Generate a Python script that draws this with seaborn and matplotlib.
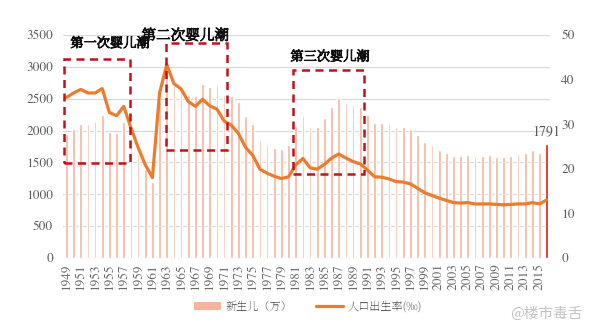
import numpy as np
import pandas as pd
import matplotlib
matplotlib.use("Agg")
import matplotlib.pyplot as plt
from matplotlib import font_manager
import matplotlib.patheffects as pe
from matplotlib.patches import Rectangle
from matplotlib.lines import Line2D
from matplotlib.patches import Patch
import seaborn as sns

# Annual newborns (10k persons) and crude birth rate (per mille), 1949-2016
years = list(range(1949, 2017))
births = [1950, 2023, 2107, 2105, 2151, 2245, 1984, 1961, 2138, 1889,
          1635, 1389, 1187, 2451, 2934, 2721, 2679, 2554, 2543, 2731,
          2690, 2710, 2551, 2550, 2447, 2226, 2102, 1849, 1783, 1733,
          1715, 1776, 2064, 2230, 2052, 2050, 2196, 2374, 2508, 2445,
          2396, 2374, 2250, 2113, 2120, 2098, 2052, 2057, 2028, 1934,
          1827, 1771, 1702, 1647, 1599, 1593, 1617, 1584, 1594, 1608,
          1591, 1592, 1604, 1635, 1640, 1687, 1655, 1791]
birth_rate = [36.0, 37.0, 37.8, 37.0, 37.0, 38.0, 32.6, 31.9, 34.0, 29.2,
              24.8, 20.9, 18.0, 37.0, 43.4, 39.1, 37.9, 35.1, 34.0, 35.6,
              34.1, 33.4, 30.7, 29.8, 27.9, 24.8, 23.0, 19.9, 19.0, 18.3,
              17.8, 18.2, 20.9, 22.3, 20.2, 19.9, 21.0, 22.4, 23.3, 22.4,
              21.6, 21.1, 19.7, 18.2, 18.1, 17.7, 17.1, 17.0, 16.6, 15.6,
              14.6, 14.0, 13.4, 12.9, 12.4, 12.3, 12.4, 12.1, 12.1, 12.1,
              12.0, 11.9, 12.0, 12.1, 12.1, 12.4, 12.1, 13.0]
tick_years = years[:-1:2]
boom_labels = ["第一次婴儿潮", "第二次婴儿潮", "第三次婴儿潮"]
bar_label = "新生儿（万）"
line_label = "人口出生率(‰)"

df = pd.DataFrame({"year": years, "births": births, "rate": birth_rate})

sns.set_theme(style="white")
installed = {f.name for f in font_manager.fontManager.ttflist}


def first_font(cands, default):
    return next((n for n in cands if n in installed), default)


serif = first_font(["FreeSerif", "Liberation Serif", "Tinos", "PT Serif", "DejaVu Serif"],
                   "DejaVu Serif")
cjk_serif = first_font(["Noto Serif SC", "Noto Serif CJK SC", "Noto Sans CJK SC"], "Noto Sans CJK SC")
plt.rcParams["font.family"] = [serif, cjk_serif, "Noto Sans CJK SC", "DejaVu Sans"]
NUM_FONT = [serif, "DejaVu Serif"]
CJK_FONT = [cjk_serif, "Noto Sans CJK SC", "DejaVu Sans"]

BAR = "#F3B59C"
LINE = "#EC7B2E"
HIGHLIGHT = "#E01515"
BOX = "#C0121C"
GRAY = "#595959"

fig = plt.figure(figsize=(6.04, 3.34), dpi=100)
ax = fig.add_axes([0.104, 0.228, 0.807, 0.667])

sns.barplot(data=df.iloc[:-1], x="year", y="births", native_scale=True,
            color=BAR, saturation=1, width=0.38, ax=ax, zorder=2)
sns.barplot(data=df.iloc[-1:], x="year", y="births", native_scale=True,
            color=HIGHLIGHT, saturation=1, width=0.45, ax=ax, zorder=3)

ax.set_xlim(years[0] - 0.5, years[-1] + 0.5)
ax.set_ylim(0, 3500)
ax.set_yticks(range(0, 3501, 500))
ax.set_yticklabels([str(v) for v in range(0, 3501, 500)], family=NUM_FONT,
                   fontsize=9.5, color=GRAY)
ax.yaxis.grid(True, color="#D9D9D9", linewidth=0.9, zorder=0)
ax.set_axisbelow(True)
ax.set_xticks(tick_years)
ax.set_xticklabels([str(y) for y in tick_years], rotation=90, fontsize=9.5,
                   color="#6A6A6A", family=NUM_FONT)
ax.tick_params(axis="y", length=0, pad=7)
ax.tick_params(axis="x", length=0, pad=4)
ax.set_xlabel("")
ax.set_ylabel("")
for s in ax.spines.values():
    s.set_visible(False)

ax.text(years[-1], births[-1] + 70, f"{births[-1]}", ha="center", va="bottom",
        fontsize=10, color=GRAY, family=NUM_FONT, zorder=6)

ax2 = ax.twinx()
sns.lineplot(data=df, x="year", y="rate", color=LINE, linewidth=2.3, ax=ax2, zorder=4)
ax2.set_ylim(0, 50)
ax2.set_yticks(range(0, 51, 10))
ax2.set_yticklabels([str(v) for v in range(0, 51, 10)], family=NUM_FONT,
                    fontsize=9.5, color=GRAY)
ax2.tick_params(axis="y", length=0, pad=8)
ax2.set_ylabel("")
ax2.set_xlabel("")
ax2.grid(False)
for s in ax2.spines.values():
    s.set_visible(False)

# Dashed frames around the three baby booms
frames = [((1948.65, 1490), 9.2, 1630),
          ((1962.95, 1695), 8.4, 1675),
          ((1980.6, 1318), 9.9, 1632)]
for (x0, y0), w, h in frames:
    ax2.add_patch(Rectangle((x0, y0), w, h, transform=ax.transData, fill=False,
                            edgecolor=BOX, linestyle=(0, (3.2, 2.2)), linewidth=1.8,
                            zorder=5, clip_on=False))

heavy = [pe.withStroke(linewidth=0.7, foreground="#111111")]
text_pos = [(1955.1, 3370, 9.5), (1965.6, 3490, 10.5), (1985.8, 3160, 9.5)]
for label, (x, y, fs) in zip(boom_labels, text_pos):
    ax2.text(x, y, label, transform=ax.transData, ha="center", va="center",
             fontsize=fs, fontweight="bold", color="#111111",
             family=CJK_FONT, zorder=7, clip_on=False, path_effects=heavy)

handles = [Patch(facecolor=BAR, edgecolor="none"),
           Line2D([0], [0], color=LINE, linewidth=2.3)]
fig.legend(handles, [bar_label, line_label], loc="center", ncol=2,
           bbox_to_anchor=(0.51, 0.082), frameon=False,
           handlelength=2.4, handleheight=0.7, columnspacing=2.2, handletextpad=0.4,
           labelcolor=GRAY, prop={"family": CJK_FONT, "size": 8})

fig.text(0.905, 0.062, "@楼市毒舌", ha="center", va="center", fontsize=10.5,
         color="#C4C4C4", family=["Noto Sans CJK SC"])

fig.savefig("out.png", dpi=100)
